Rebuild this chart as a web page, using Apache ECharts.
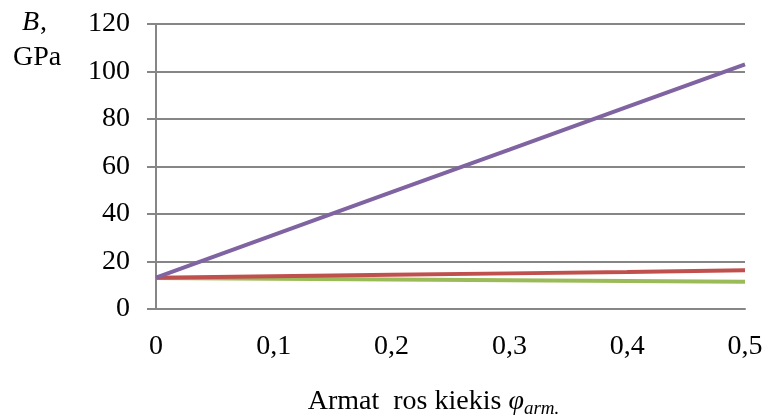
<!DOCTYPE html>
<html>
<head>
<meta charset="utf-8">
<script src="https://cdn.jsdelivr.net/npm/echarts@6/dist/echarts.min.js"></script>
<style>
  html, body { margin: 0; padding: 0; background: #fff; }
  #chart { width: 766px; height: 415px; }
</style>
</head>
<body>
<div id="chart"></div>
<script>
// Reinforcement content φ_arm. and resulting modulus B (GPa)
const phiArm = [0, 0.1, 0.2, 0.3, 0.4, 0.5];
const bPurple = [13.2, 31.2, 49.2, 67.1, 85.1, 103.0];
const bRed = [13.2, 13.8, 14.4, 15.0, 15.6, 16.3];
const bGreen = [13.0, 12.7, 12.4, 12.1, 11.8, 11.5];
const yTicks = [0, 20, 40, 60, 80, 100, 120];

const serif = '"Liberation Serif", "DejaVu Serif", serif';
const gridColor = '#868686';

function pairs(xs, ys) { return xs.map((x, i) => [x, ys[i]]); }

const chart = echarts.init(document.getElementById('chart'));
chart.setOption({
  animation: false,
  grid: { left: 156, right: 21, top: 24, bottom: 106, containLabel: false, outerBoundsMode: 'none' },
  xAxis: {
    type: 'value',
    min: 0, max: 0.5, interval: 0.1,
    axisLine: { show: true, lineStyle: { color: gridColor, width: 2 } },
    axisTick: { show: false },
    splitLine: { show: false },
    axisLabel: {
      color: '#000', fontFamily: serif, fontSize: 28, margin: 24,
      formatter: v => String(Math.round(v * 10) / 10).replace('.', ',')
    },
    name: '{t|Armat  ros kiekis }{p|φ}{s|arm.}',
    nameLocation: 'middle', nameGap: 76,
    nameTextStyle: {
      padding: [0, 34, 0, 0],
      rich: {
        t: { fontFamily: serif, fontSize: 28, color: '#000' },
        p: { fontFamily: serif, fontSize: 28, fontStyle: 'italic', color: '#000' },
        s: { fontFamily: serif, fontSize: 19, fontStyle: 'italic', color: '#000', padding: [14, 0, 0, 0] }
      }
    }
  },
  yAxis: {
    type: 'value',
    min: yTicks[0], max: yTicks[yTicks.length - 1], interval: 20,
    axisLine: { show: true, lineStyle: { color: gridColor, width: 2 } },
    axisTick: { show: true, length: 9, lineStyle: { color: gridColor, width: 2 } },
    splitLine: { show: true, lineStyle: { color: gridColor, width: 2 } },
    axisLabel: { color: '#000', fontFamily: serif, fontSize: 28, margin: 26 }
  },
  graphic: [
    { type: 'text', left: 22, top: 9,
      style: { text: 'B', font: 'italic 28px ' + serif, fill: '#000' } },
    { type: 'text', left: 40, top: 9,
      style: { text: ',', font: '28px ' + serif, fill: '#000' } },
    { type: 'text', left: 13, top: 44,
      style: { text: 'GPa', font: '28px ' + serif, fill: '#000' } }
  ],
  series: [
    { type: 'line', data: pairs(phiArm, bGreen), symbol: 'none',
      lineStyle: { color: '#9BBB59', width: 4 } },
    { type: 'line', data: pairs(phiArm, bRed), symbol: 'none',
      lineStyle: { color: '#C0504D', width: 4 } },
    { type: 'line', data: pairs(phiArm, bPurple), symbol: 'none',
      lineStyle: { color: '#8064A2', width: 4 } }
  ]
});
</script>
</body>
</html>
